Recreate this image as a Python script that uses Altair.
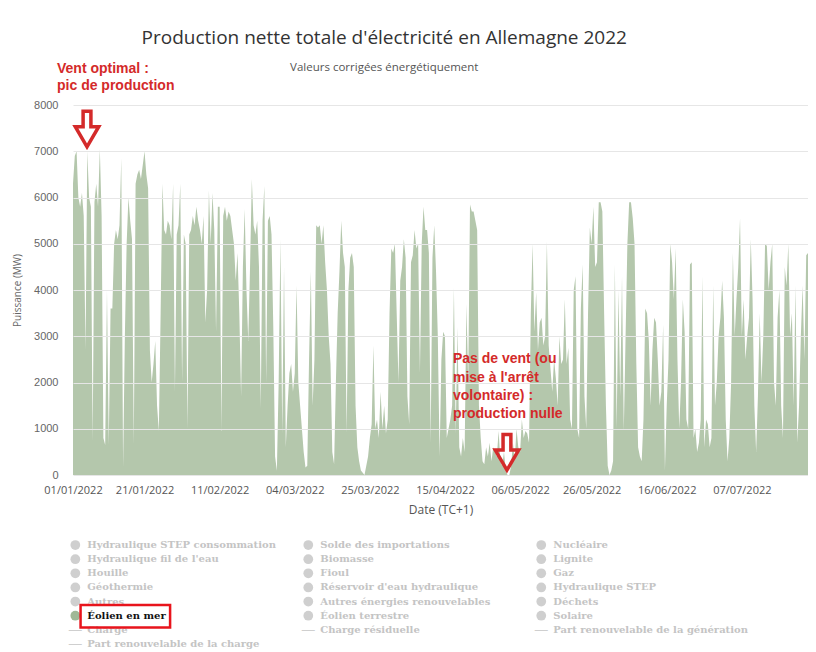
import altair as alt
import pandas as pd

# Offshore wind net production (MW), two readings per day (00:00, 12:00)
jan = [6300, 6900, 7000, 6000, 5800, 6100, 5600, 2700, 7000, 6000,
       5800, 730, 5900, 6300, 5800, 7050, 5600, 800, 650, 4000,
       650, 3600, 3600, 5000, 5300, 5100, 5400, 6850, 160, 3000,
       5000, 6000, 5500, 5100, 660, 6300, 6500, 6600, 6400, 6700,
       7000, 6500, 6200, 2700, 2000, 2400, 2900, 1500, 950, 3500,
       6300, 5300, 5200, 5500, 5400, 5100, 6300, 1800, 5200, 5400,
       6300, 2000]
feb = [5200, 5000, 1000, 5200, 5300, 5600, 5400, 5800, 5500, 5300,
       5000, 5600, 3300, 4000, 6150, 5000, 6100, 5300, 3100, 5800,
       5800, 950, 5600, 5800, 5500, 5700, 5600, 5300, 5000, 4200,
       4800, 3500, 1700, 4500, 5750, 4000, 2900, 4500, 6400, 5400,
       5200, 5500, 4500, 1450, 5500, 6250, 2000, 5500, 5600, 5200,
       3200, 400, 90, 2000, 5100, 900]
mar = [4500, 600, 1500, 2200, 2400, 1800, 2200, 4100, 2000, 1500,
       1000, 500, 160, 200, 2500, 4400, 1500, 2500, 5400, 5350,
       5400, 5000, 5400, 4600, 4000, 3000, 2400, 500, 230, 2000,
       3500, 4400, 5500, 4800, 4500, 900, 4000, 4700, 4800, 4500,
       1500, 600, 300, 100, 50, 0, 200, 400, 800, 1100,
       2800, 1000, 1200, 800, 1800, 1000, 1500, 900, 1200, 3500,
       4900, 4800]
apr = [5000, 3500, 2000, 4200, 4500, 5100, 4700, 1700, 1100, 4600,
       4750, 5300, 4900, 5000, 2200, 5000, 5800, 5300, 5300, 4800,
       700, 4700, 5400, 4400, 3000, 400, 2500, 3100, 3000, 800,
       1000, 1200, 1500, 4050, 900, 3200, 600, 400, 800, 500,
       3700, 2000, 5850, 5700, 5700, 5500, 5300, 1500, 800, 300,
       230, 600, 400, 700, 300, 600, 500, 400, 950, 300]
may = [200, 500, 100, 0, 0, 200, 700, 300, 1000, 600,
       500, 1200, 800, 950, 900, 700, 3500, 5000, 3100, 3950,
       2700, 3300, 3400, 2800, 3000, 5050, 2800, 2300, 1800, 2500,
       2100, 1500, 3000, 2400, 2500, 3800, 2400, 2750, 1200, 1000,
       4000, 4300, 1000, 800, 3600, 4550, 1700, 1000, 3500, 5350,
       5000, 5800, 4500, 4600, 5900, 5900, 5700, 3500, 1500, 200,
       0, 100]
jun = [300, 4550, 1000, 4000, 1700, 4300, 950, 3000, 5000, 5900,
       5900, 5550, 5000, 2400, 600, 400, 300, 1200, 3600, 3500,
       2900, 1500, 2700, 3400, 3300, 2500, 1500, 1800, 3250, 100,
       1500, 2500, 5000, 4600, 3800, 4900, 2500, 1000, 2000, 3800,
       3100, 1200, 1000, 4550, 4600, 800, 1000, 500, 700, 1200,
       4300, 600, 1200, 1100, 600, 800, 4100, 1500, 2000, 3000]
jul = [3400, 4200, 3400, 1200, 300, 800, 2000, 4800, 3000, 3800,
       4500, 5550, 3000, 3800, 2500, 3000, 3400, 5100, 3800, 1500,
       500, 1700, 3500, 2000, 3000, 5000, 4950, 4000, 4600, 5000,
       2000, 1500, 3400, 4000, 1500, 800, 4500, 4100, 5000, 3000,
       3500, 1500, 4100, 700, 1500, 3000, 4100, 2500, 4750, 4800]

tick_dates = ["2022-01-01", "2022-01-21", "2022-02-11", "2022-03-04", "2022-03-25",
              "2022-04-15", "2022-05-06", "2022-05-26", "2022-06-16", "2022-07-07"]
y_ticks = [0, 1000, 2000, 3000, 4000, 5000, 6000, 7000, 8000]

annot_dates = ["2022-01-04T22:00:00", "2022-05-02T08:00:00"]
annot_mw = [7480, 490]
annot_text = ["Vent optimal :\npic de production",
              "Pas de vent (ou\nmise à l'arrêt\nvolontaire) :\nproduction nulle"]

legend_col1 = ["Hydraulique STEP consommation", "Hydraulique fil de l'eau", "Houille",
               "Géothermie", "Autres", "Éolien en mer", "Charge",
               "Part renouvelable de la charge"]
legend_col2 = ["Solde des importations", "Biomasse", "Fioul", "Réservoir d'eau hydraulique",
               "Autres énergies renouvelables", "Éolien terrestre", "Charge résiduelle"]
legend_col3 = ["Nucléaire", "Lignite", "Gaz", "Hydraulique STEP", "Déchets", "Solaire",
               "Part renouvelable de la génération"]
line_items = ["Charge", "Part renouvelable de la charge", "Charge résiduelle",
              "Part renouvelable de la génération"]
active_item = "Éolien en mer"

RED = "#d42a2a"
GREEN = "#b4c7ac"

values = jan + feb + mar + apr + may + jun + jul
times = pd.date_range("2022-01-01", periods=len(values), freq="12h")
df = pd.DataFrame({"date": times.strftime("%Y-%m-%dT%H:%M:%S"), "mw": values})


def dt(s):
    p = pd.Timestamp(s)
    return alt.DateTime(year=p.year, month=p.month, date=p.day, hours=p.hour)


x_enc = alt.X(
    "date:T", title="Date (TC+1)",
    scale=alt.Scale(domain=[dt("2022-01-01"), dt(times[-1])]),
    axis=alt.Axis(values=[dt(d) for d in tick_dates], format="%d/%m/%Y",
                  labelFont="Open Sans", labelFontSize=11, labelColor="#555",
                  labelPadding=9, labelFlush=False, labelOverlap=False,
                  ticks=False, domain=False, grid=False,
                  titleFont="Open Sans", titleFontSize=12, titleColor="#555",
                  titleFontWeight="normal", titlePadding=9),
)
y_enc = alt.Y(
    "mw:Q", title="Puissance (MW)",
    scale=alt.Scale(domain=[0, 8000], nice=False),
    axis=alt.Axis(values=y_ticks, format="d", labelFont="Liberation Sans",
                  labelFontSize=11, labelColor="#666", labelPadding=15,
                  ticks=False, domain=False, gridColor="#e6e6e6", zindex=1,
                  titleFont="Open Sans", titleFontSize=10, titleColor="#666",
                  titleFontWeight="normal", titlePadding=11),
)

area = alt.Chart(df).mark_area(color=GREEN, interpolate="linear", opacity=1).encode(x=x_enc, y=y_enc)

adf = pd.DataFrame({"date": annot_dates, "mw": annot_mw, "label": annot_text})
arrow_path = ("M -0.22 -1 L 0.22 -1 L 0.22 -0.13 L 0.66 -0.13 L 0 1 "
              "L -0.66 -0.13 L -0.22 -0.13 Z")
arrows = alt.Chart(adf).mark_point(shape=arrow_path, size=1260, filled=False, color=RED,
                                   strokeWidth=3.5, opacity=1).encode(x="date:T", y="mw:Q")
text1 = alt.Chart(adf.iloc[[0]]).mark_text(
    align="left", baseline="alphabetic", dx=-30, dy=-56, lineBreak="\n", lineHeight=17,
    font="Liberation Sans", fontSize=14, fontWeight="bold", color=RED,
).encode(x="date:T", y="mw:Q", text="label:N")
text2 = alt.Chart(adf.iloc[[1]]).mark_text(
    align="left", baseline="alphabetic", dx=-54, dy=-89, lineBreak="\n", lineHeight=18.3,
    font="Liberation Sans", fontSize=14, fontWeight="bold", color=RED,
).encode(x="date:T", y="mw:Q", text="label:N")

main = alt.layer(area, arrows, text1, text2).properties(width=735, height=370)

rows = []
for c, names in enumerate([legend_col1, legend_col2, legend_col3]):
    for r, n in enumerate(names):
        rows.append({"col": c, "row": r, "name": n,
                     "kind": "line" if n in line_items else "circle",
                     "active": n == active_item})
ldf = pd.DataFrame(rows)
lbase = alt.Chart(ldf).encode(
    x=alt.X("col:Q", scale=alt.Scale(domain=[-0.01, 3.145], nice=False, zero=False), axis=None),
    y=alt.Y("row:Q", scale=alt.Scale(domain=[-0.5, 7.5], reverse=True, nice=False, zero=False), axis=None),
)
dots = lbase.transform_filter("datum.kind == 'circle'").mark_point(
    filled=True, size=95, shape="circle", opacity=1
).encode(color=alt.condition("datum.active", alt.value("#a0b896"), alt.value("#cfcfcf")))
dashes = lbase.transform_filter("datum.kind == 'line'").mark_text(
    text="—", fontSize=13, color="#cfcfcf")
labels = lbase.mark_text(align="left", dx=12, font="DejaVu Serif", fontSize=10,
                         fontWeight="bold").encode(
    text="name:N",
    color=alt.condition("datum.active", alt.value("#111111"), alt.value("#c4c4c4")))
box_path = "M 0.114 -0.234 L 2.06 -0.234 L 2.06 0.255 L 0.114 0.255 Z"
box = lbase.transform_filter("datum.active").mark_point(
    shape=box_path, size=8464, filled=False, color="#e8141c", strokeWidth=2.5, opacity=1)

legend = alt.layer(dots, dashes, labels, box).properties(width=735, height=113)

chart = alt.vconcat(main, legend, spacing=23).properties(
    title=alt.TitleParams(
        text="Production nette totale d'électricité en Allemagne 2022",
        subtitle="Valeurs corrigées énergétiquement",
        font="Open Sans", fontSize=19, fontWeight="normal", color="#333",
        subtitleFont="Open Sans", subtitleFontSize=11.5, subtitleColor="#555",
        subtitlePadding=14, anchor="middle", offset=-11, dx=-26),
    padding={"left": 4, "top": 20, "right": 0, "bottom": 0},
    background="white",
).configure_view(stroke=None, strokeWidth=0)

chart.save("out.html", embed_options={"renderer": "svg", "actions": False})
